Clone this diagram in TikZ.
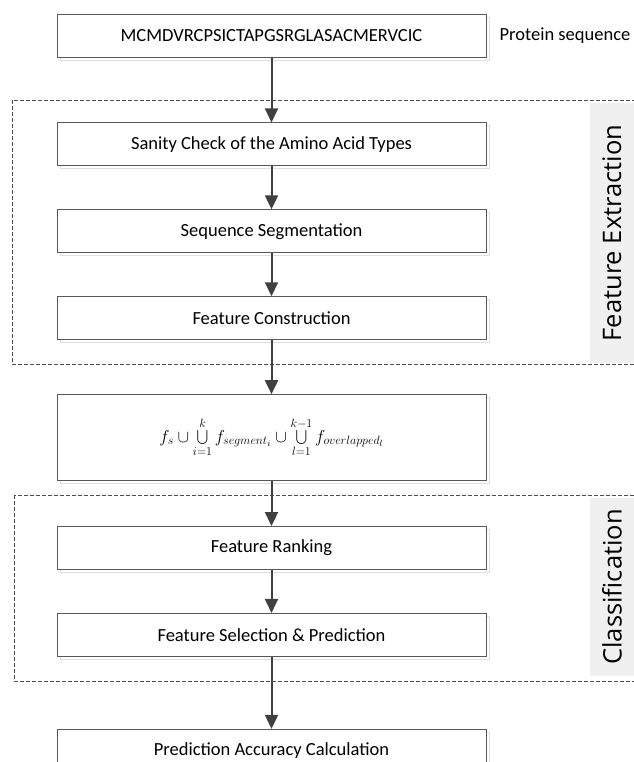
\documentclass[tikz,border=0pt]{standalone}
\usepackage{fontspec}
\usepackage{graphicx}
\setmainfont{Carlito}
\newfontfamily\sidefont{Open Sans}
\usetikzlibrary{positioning, arrows.meta, shadows}

\begin{document}
\begin{tikzpicture}
  [stage/.style={rectangle,draw=black!65,fill=white,line width=0.9pt,minimum width=429pt,minimum height=43pt,inner sep=0pt,
      font=\fontsize{18.5}{22}\selectfont,general shadow={draw=black!12,fill=white,shadow xshift=3pt,shadow yshift=-3pt}},
note/.style={font=\fontsize{18.5}{22}\selectfont,inner sep=0pt},
part/.style={draw=black!70,dash pattern=on 4pt off 2pt,line width=0.8pt},
tab/.style={fill=black!6,draw=none},
side/.style={rotate=90,font=\sidefont\fontsize{25.5}{30}\selectfont},
flow/.style={-{Triangle[length=14pt,width=13pt]},line width=2pt,draw=black!75}]

  \useasboundingbox (0,0) rectangle (633pt,-762pt);

  % the two grouped parts
  \fill[tab] (590pt,-103pt) rectangle (645pt,-363pt);
  \fill[tab] (590pt,-498pt) rectangle (645pt,-676pt);
  \draw[part] (12pt,-100pt) rectangle (645pt,-364pt);
  \draw[part] (14pt,-495pt) rectangle (645pt,-681pt);
  \node[side] (fex) at (612pt,-233pt) {Feature Extraction};
  \node[side] (cls) at (612pt,-587pt) {Classification};

  \node[stage] (seq) at (271.5pt,-35.5pt) {MCMDVRCPSICTAPGSRGLASACMERVCIC};
  \node[note]  (lab) [right=13pt of seq] {Protein sequence};
  \node[stage] (chk) [below=65pt of seq] {Sanity Check of the Amino Acid Types};
  \node[stage] (seg) [below=43pt of chk] {Sequence Segmentation};
  \node[stage] (con) [below=43pt of seg] {Feature Construction};
  \node[stage,minimum height=86pt] (fml) [below=54pt of con]
                {$\displaystyle f_s\cup\bigcup_{i=1}^{k} f_{segment_i}\cup\bigcup_{l=1}^{k-1} f_{overlapped_l}$};
  \node[stage] (rnk) [below=45pt of fml] {Feature Ranking};
  \node[stage] (sel) [below=43pt of rnk] {Feature Selection \& Prediction};
  \node[stage] (acc) [below=72pt of sel] {Prediction Accuracy Calculation};

\foreach \a/\b in {seq/chk,chk/seg,seg/con,con/fml,fml/rnk,rnk/sel,sel/acc}
  \draw [flow] (\a.south) -- (\b.north);

\end{tikzpicture}
\end{document}
